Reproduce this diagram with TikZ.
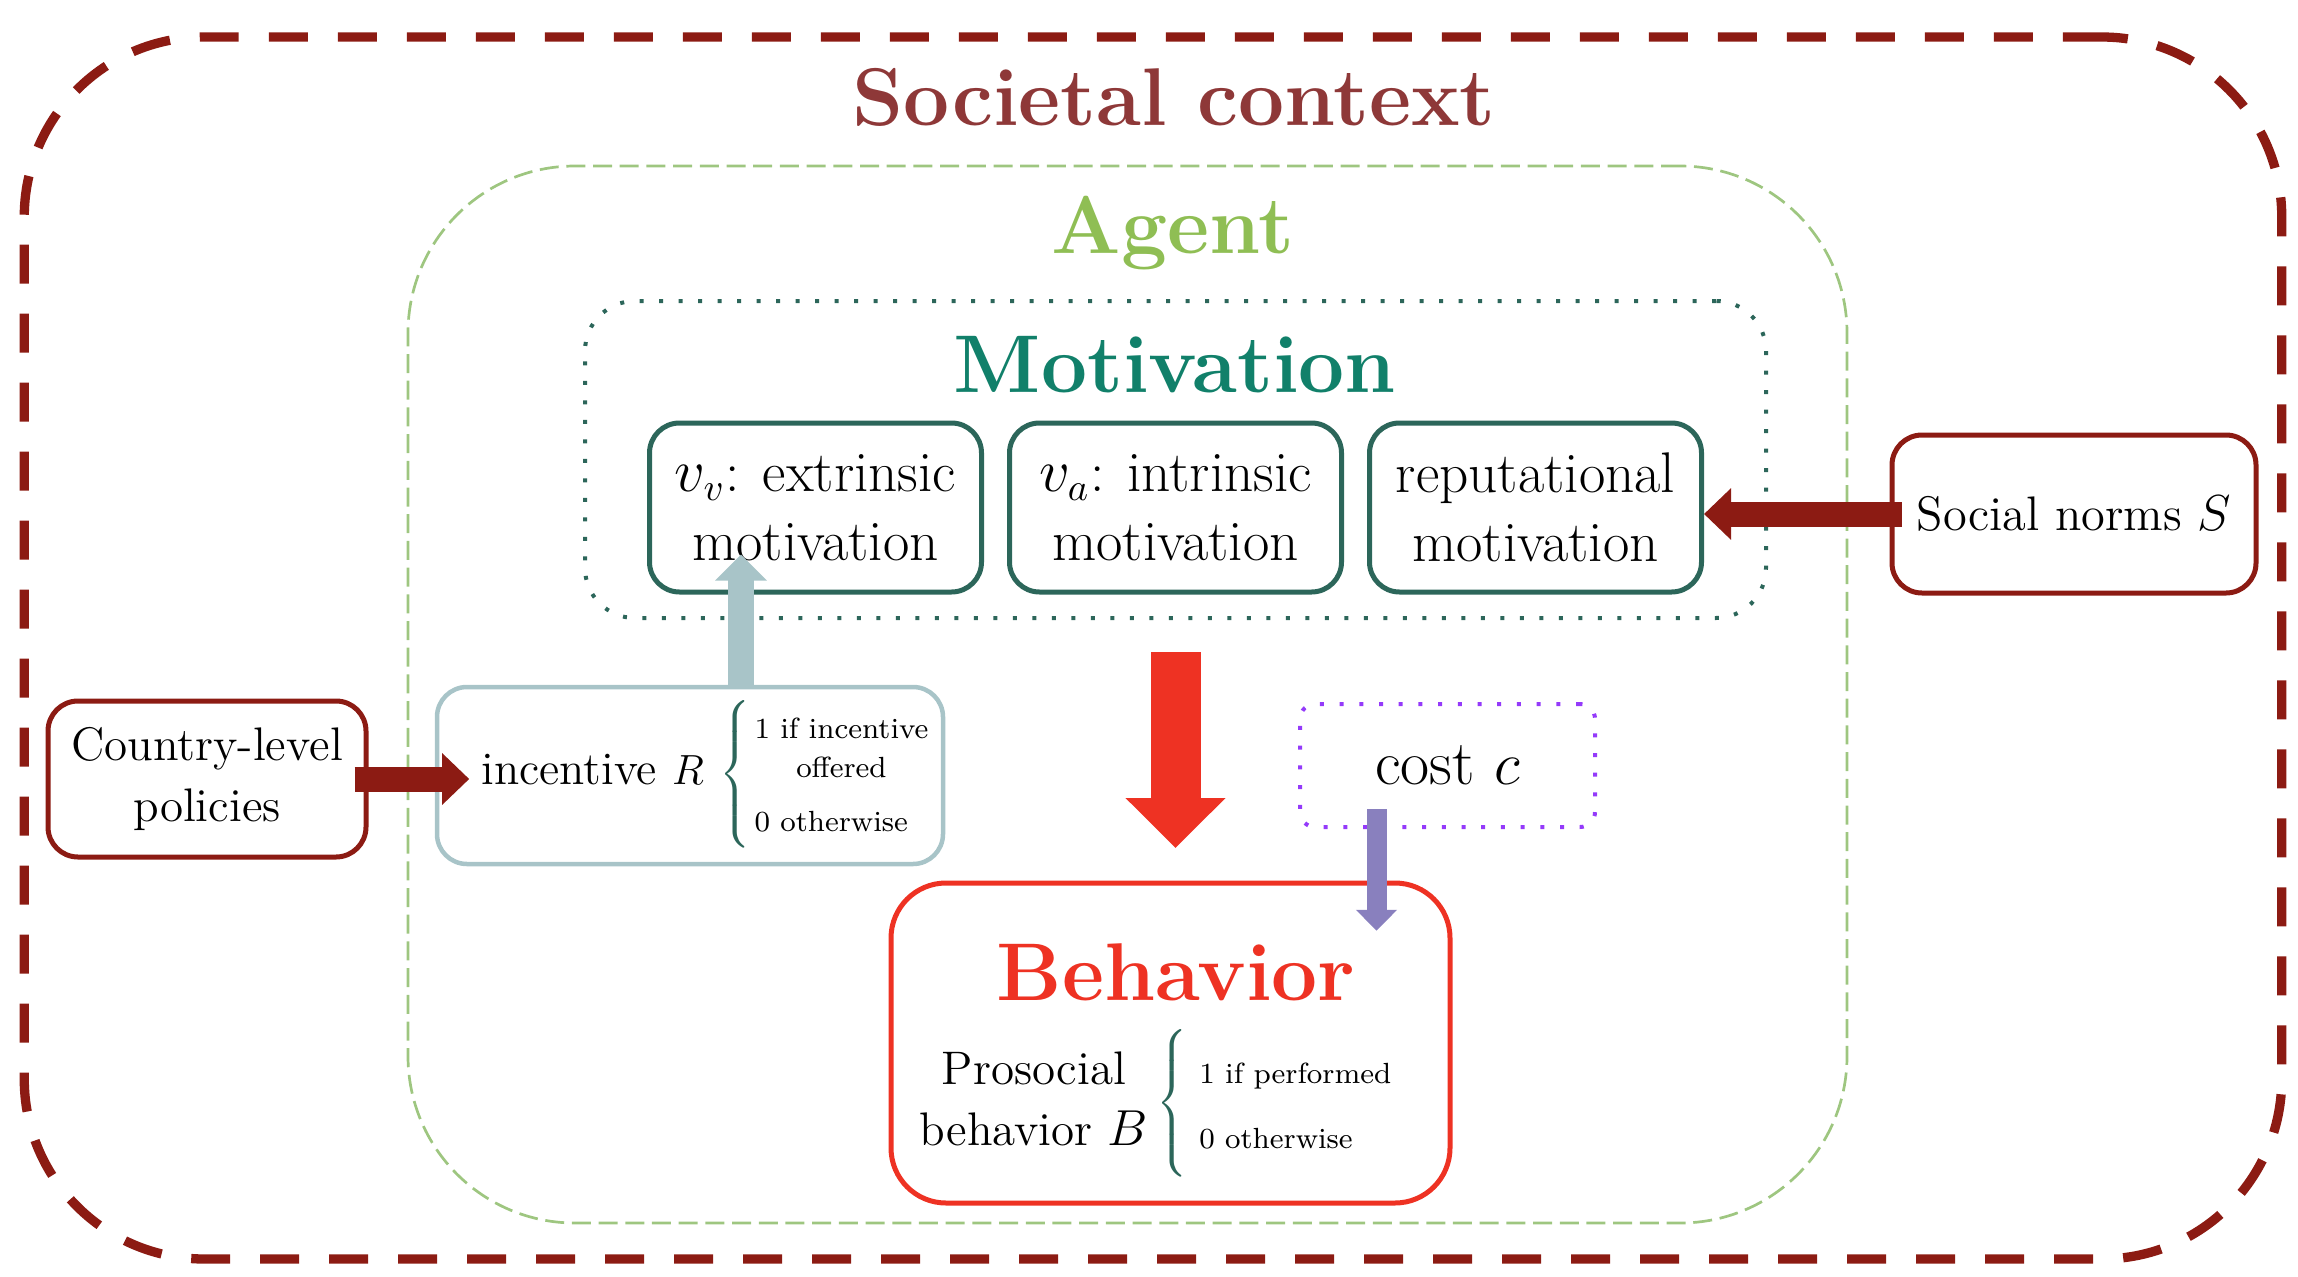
\documentclass[tikz,border=0pt]{standalone}
\usetikzlibrary{arrows.meta,positioning,calc}

\definecolor{societyred}{RGB}{140,27,19}
\definecolor{societytitle}{RGB}{142,56,56}
\definecolor{agentline}{RGB}{158,198,128}
\definecolor{agenttitle}{RGB}{143,190,84}
\definecolor{motivtitle}{RGB}{17,128,106}
\definecolor{motivline}{RGB}{44,102,90}
\definecolor{incblue}{RGB}{168,196,200}
\definecolor{costviolet}{RGB}{148,58,250}
\definecolor{costarrowcol}{RGB}{137,128,190}
\definecolor{behavred}{RGB}{238,50,35}

\begin{document}
\begin{tikzpicture}[every node/.style={font=\fontsize{13.4}{17.4}\selectfont},
  frametitle/.style={font=\fontsize{23.3}{28}\selectfont\bfseries,anchor=base},
  societyframe/.style={draw=societyred,line width=0.093cm,dash pattern=on 0.39cm off 0.3cm,rounded corners=1.8cm,minimum width=22.575cm,minimum height=12.22cm},
  agentframe/.style={draw=agentline,line width=0.027cm,dash pattern=on 0.19cm off 0.077cm,rounded corners=1.67cm,minimum width=14.39cm,minimum height=10.57cm},
  motivframe/.style={draw=motivline,line width=0.04cm,dash pattern=on 0.04cm off 0.155cm,rounded corners=0.5cm,minimum width=11.81cm,minimum height=3.17cm},
  motivbox/.style={draw=motivline,line width=0.05cm,rounded corners=0.3cm,minimum width=3.32cm,minimum height=1.69cm,align=center,font=\fontsize{16.3}{19.6}\selectfont},
  redbox/.style={draw=societyred,line width=0.05cm,rounded corners=0.3cm,align=center},
  incbox/.style={draw=incblue,line width=0.045cm,rounded corners=0.3cm,minimum width=5.06cm,minimum height=1.77cm},
  costbox/.style={draw=costviolet,line width=0.04cm,dash pattern=on 0.04cm off 0.157cm,rounded corners=0.15cm,minimum width=2.95cm,minimum height=1.23cm,font=\fontsize{18}{22}\selectfont},
  behbox/.style={draw=behavred,line width=0.05cm,rounded corners=0.55cm,minimum width=5.59cm,minimum height=3.2cm},
  sidearrow/.style={draw=societyred,line width=0.25cm,-{Triangle[width=0.5cm,length=0.27cm]}},
  incarrow/.style={draw=incblue,line width=0.26cm,-{Triangle[width=0.5cm,length=0.26cm]}},
  costarrow/.style={draw=costarrowcol,line width=0.2cm,-{Triangle[width=0.4cm,length=0.21cm]}},
  mainarrow/.style={draw=behavred,line width=0.5cm,-{Triangle[width=0.97cm,length=0.5cm]},shorten <=0.32cm,shorten >=0.325cm}]
\useasboundingbox (0,0) rectangle (22.98,-12.76);

% nested frames
\node[societyframe] (society) at (11.53,-6.48) {};
\node[frametitle,text=societytitle] (societyname) at (11.74,-1.25) {Societal context};
\node[agentframe] (agent) at (11.275,-6.945) {};
\node[frametitle,text=agenttitle] (agentname) at (11.73,-2.53) {Agent};
\node[motivframe] (motivation) at (11.755,-4.595) {};
\node[frametitle,text=motivtitle] (motivname) at (11.75,-3.92) {Motivation};

% motivation parts
\node[motivbox] (intr) at (11.755,-5.075) {$v_a$: intrinsic\\motivation};
\node[motivbox,left=0.23cm of intr] (extr) {$v_v$: extrinsic\\motivation};
\node[motivbox,right=0.23cm of intr] (repu) {reputational\\motivation};

% outside influences
\node[redbox,minimum width=3.64cm,minimum height=1.58cm,font=\fontsize{13.8}{17}\selectfont] (social) at (20.74,-5.14) {Social norms $S$};
\node[redbox,minimum width=3.18cm,minimum height=1.56cm] (country) at (2.07,-7.79) {Country-level\\policies};

% incentive
\node[incbox] (incentive) at (6.90,-7.755) {};
\node[font=\fontsize{13.2}{17.4}\selectfont] (incbody) at (7.05,-7.74) {incentive $R$ \textcolor{motivline}{$\left\{\vrule height 23.8pt depth 17.2pt width 0pt\right.$}{\fontsize{8.3}{11.1}\selectfont\begin{tabular}{@{}l@{}}1 if incentive\\\multicolumn{1}{@{}c@{}}{offered}\\[4.3pt]0 otherwise\end{tabular}}};

% cost
\node[costbox] (cost) at (14.475,-7.655) {cost $c$};

% behavior
\node[behbox] (behavior) at (11.705,-10.43) {};
\node[frametitle,text=behavred] (behname) at (11.76,-10.00) {Behavior};
\node (behbody) at (11.555,-11.03) {\begin{tabular}{@{}c@{}}Prosocial\\behavior $B$\end{tabular}\,\textcolor{motivline}{$\left\{\vrule height 23.8pt depth 17.2pt width 0pt\right.$}\,{\fontsize{8.3}{11.1}\selectfont\begin{tabular}{@{}l@{}}1 if performed\\[7.4pt]0 otherwise\end{tabular}}};

% arrows
\draw[sidearrow,shorten <=-0.12cm] (social.west) -- (social.west -| repu.east);
\draw[sidearrow,shorten <=-0.14cm] (country.east) -- (country.east -| incbody.west);
\coordinate (incfoot) at ($(incbody.north)+(0.36,0)$);
\draw[incarrow] (incfoot) -- ($(incfoot |- extr.south)+(0,0.4)$);
\draw[mainarrow] (motivation.south) -- (motivation.south |- behavior.north);
\coordinate (costfoot) at ($(cost.south)+(-0.71,0.2)$);
\draw[costarrow] (costfoot) -- (costfoot |- behname.north);
\end{tikzpicture}
\end{document}
